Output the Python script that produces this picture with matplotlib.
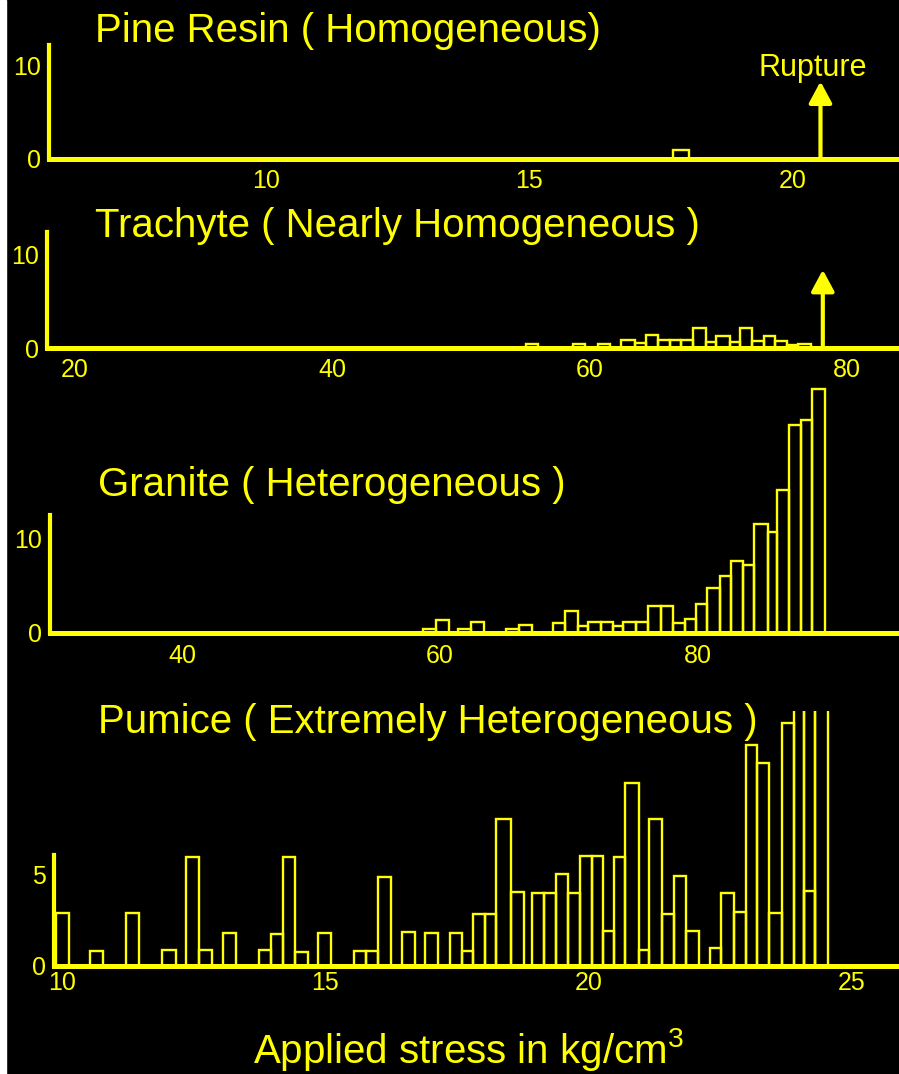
import matplotlib
matplotlib.use("Agg")
import matplotlib.pyplot as plt
from matplotlib.patches import Rectangle
import numpy as np

plt.rcParams['font.family'] = ['Liberation Sans', 'DejaVu Sans']
plt.rcParams['mathtext.fontset'] = 'custom'
plt.rcParams['mathtext.rm'] = 'Liberation Sans'
plt.rcParams['mathtext.it'] = 'Liberation Sans'

YEL = "#ffff00"

# --- data (bin left edge in kg/cm^2, event count) ---
pine_lefts = [17.73]
pine_counts = [1.0]
pine_rupture = 20.53

trachyte_lefts = [55.0, 58.7, 60.6, 62.4, 63.5, 64.4, 65.3, 66.2, 67.1, 68.0,
                  69.0, 69.8, 70.9, 71.7, 72.6, 73.5, 74.4, 75.3, 76.2]
trachyte_counts = [0.4, 0.4, 0.4, 0.9, 0.5, 1.4, 0.9, 0.9, 0.9, 2.15,
                   0.6, 1.3, 0.6, 2.15, 0.7, 1.3, 0.7, 0.3, 0.4]
trachyte_rupture = 78.1

granite_lefts = [58.66, 59.69, 61.42, 62.38, 65.12, 66.12, 68.78, 69.69, 70.72, 71.50,
                 72.46, 73.39, 74.21, 75.17, 76.15, 77.11, 78.04, 78.99, 79.84, 80.72,
                 81.71, 82.56, 83.51, 84.36, 85.40, 86.15, 87.08, 87.98, 88.86]
granite_counts = [0.4, 1.35, 0.45, 1.2, 0.4, 0.8, 1.1, 2.3, 0.75, 1.2,
                  1.2, 0.7, 1.2, 1.2, 2.9, 2.9, 1.05, 1.5, 3.1, 4.8,
                  6.05, 7.65, 7.25, 11.6, 10.7, 15.2, 22.1, 22.7, 25.9]

pumice_lefts = [9.89, 10.54, 11.22, 11.91, 12.35, 12.60, 13.06, 13.74, 13.97, 14.20,
                14.43, 14.87, 15.55, 15.78, 16.00, 16.46, 16.90, 17.36, 17.60, 17.81,
                18.04, 18.24, 18.52, 18.93, 19.16, 19.38, 19.61, 19.84, 20.07, 20.27,
                20.49, 20.69, 20.96, 21.15, 21.39, 21.62, 21.85, 22.31, 22.52, 22.76,
                22.99, 23.19, 23.42, 23.67, 23.89, 24.08, 24.29]
pumice_counts = [2.9, 0.8, 2.9, 0.85, 6.0, 0.85, 1.8, 0.85, 1.75, 6.0,
                 0.75, 1.8, 0.8, 0.8, 4.9, 1.85, 1.8, 1.8, 0.8, 2.85,
                 2.85, 8.1, 4.05, 4.0, 4.0, 5.05, 4.0, 6.05, 6.05, 1.9,
                 6.0, 10.1, 0.85, 8.1, 2.85, 4.95, 1.9, 0.95, 4.0, 2.95,
                 12.2, 11.2, 2.9, 13.4, 15.0, 15.0, 15.0]
pumice_inner_left = [24.08]
pumice_inner_count = [4.1]


def bar_widths(lefts, w):
    lefts = np.asarray(lefts)
    gaps = np.diff(lefts, append=lefts[-1] + w)
    return np.where(gaps < 1.4 * w, gaps, w)


def panel(fig, px_left, px_base, px_top, xlim, ylim_top, spine_top,
          xticks, yticks, xpad):
    W, H = 899.0, 1074.0
    ax = fig.add_axes([px_left / W, 1 - px_base / H,
                       (W - px_left) / W, (px_base - px_top) / H])
    ax.set_facecolor("none")
    ax.set_xlim(*xlim)
    ax.set_ylim(0, ylim_top)
    for s in ("top", "right"):
        ax.spines[s].set_visible(False)
    ax.spines["bottom"].set_color(YEL)
    ax.spines["bottom"].set_linewidth(3.6)
    ax.spines["left"].set_color(YEL)
    ax.spines["left"].set_linewidth(3.0)
    ax.spines["left"].set_bounds(0, spine_top)
    ax.set_xticks(xticks)
    ax.set_yticks(yticks)
    ax.tick_params(axis="x", length=0, labelsize=18, colors=YEL, pad=xpad)
    ax.tick_params(axis="y", length=0, labelsize=18, colors=YEL, pad=6)
    return ax


def draw_bars(ax, lefts, counts, w):
    ax.bar(lefts, counts, width=bar_widths(lefts, w), align="edge",
           fill=False, edgecolor=YEL, linewidth=1.7)


def rupture(ax, x, top):
    ax.annotate("", xy=(x, top), xytext=(x, 0),
                arrowprops=dict(arrowstyle="-|>,head_length=0.65,head_width=0.35",
                                color=YEL, lw=3, mutation_scale=20,
                                shrinkA=0, shrinkB=0))


fig = plt.figure(figsize=(8.99, 10.74), dpi=100, facecolor="black")
fig.patches.append(Rectangle((0, 0), 6 / 899, 1, transform=fig.transFigure,
                             color="white", zorder=-1))

# Pine resin
ax1 = panel(fig, 49, 159, 40, (5.89, 22.02), 12.74, 12.2, [10, 15, 20], [0, 10], 7)
draw_bars(ax1, pine_lefts, pine_counts, 0.3)
rupture(ax1, pine_rupture, 8.3)
ax1.text(20.39, 9.7, "Rupture", color=YEL, fontsize=22, ha="center", va="center")

# Trachyte
ax2 = panel(fig, 47, 348, 228, (17.82, 84.02), 12.9, 12.5, [20, 40, 60, 80], [0, 10], 7)
draw_bars(ax2, trachyte_lefts, trachyte_counts, 0.95)
rupture(ax2, trachyte_rupture, 8.4)

# Granite
ax3 = panel(fig, 50, 633, 380, (29.77, 95.58), 26.9, 12.5, [40, 60, 80], [0, 10], 8)
draw_bars(ax3, granite_lefts, granite_counts, 1.0)

# Pumice
ax4 = panel(fig, 54, 965.5, 711, (9.854, 25.89), 14.06, 6.1, [10, 15, 20, 25], [0, 5], 4)
draw_bars(ax4, pumice_lefts, pumice_counts, 0.25)
w_inner = bar_widths(pumice_lefts, 0.25)[np.searchsorted(pumice_lefts, pumice_inner_left)]
ax4.bar(pumice_inner_left, pumice_inner_count, width=w_inner, align="edge",
        fill=False, edgecolor=YEL, linewidth=1.7)

titles = [("Pine Resin ( Homogeneous)", 95, 42),
          ("Trachyte ( Nearly Homogeneous )", 95, 237),
          ("Granite ( Heterogeneous )", 98, 496),
          ("Pumice ( Extremely Heterogeneous )", 98, 733)]
for txt, x, y in titles:
    fig.text(x / 899, 1 - y / 1074, txt, color=YEL, fontsize=29, ha="left", va="baseline")

fig.text(253 / 899, 1 - 1063 / 1074, r"Applied stress in kg/cm$^{3}$", color=YEL,
         fontsize=29, ha="left", va="baseline")

fig.savefig("out.png", dpi=100, facecolor=fig.get_facecolor())
